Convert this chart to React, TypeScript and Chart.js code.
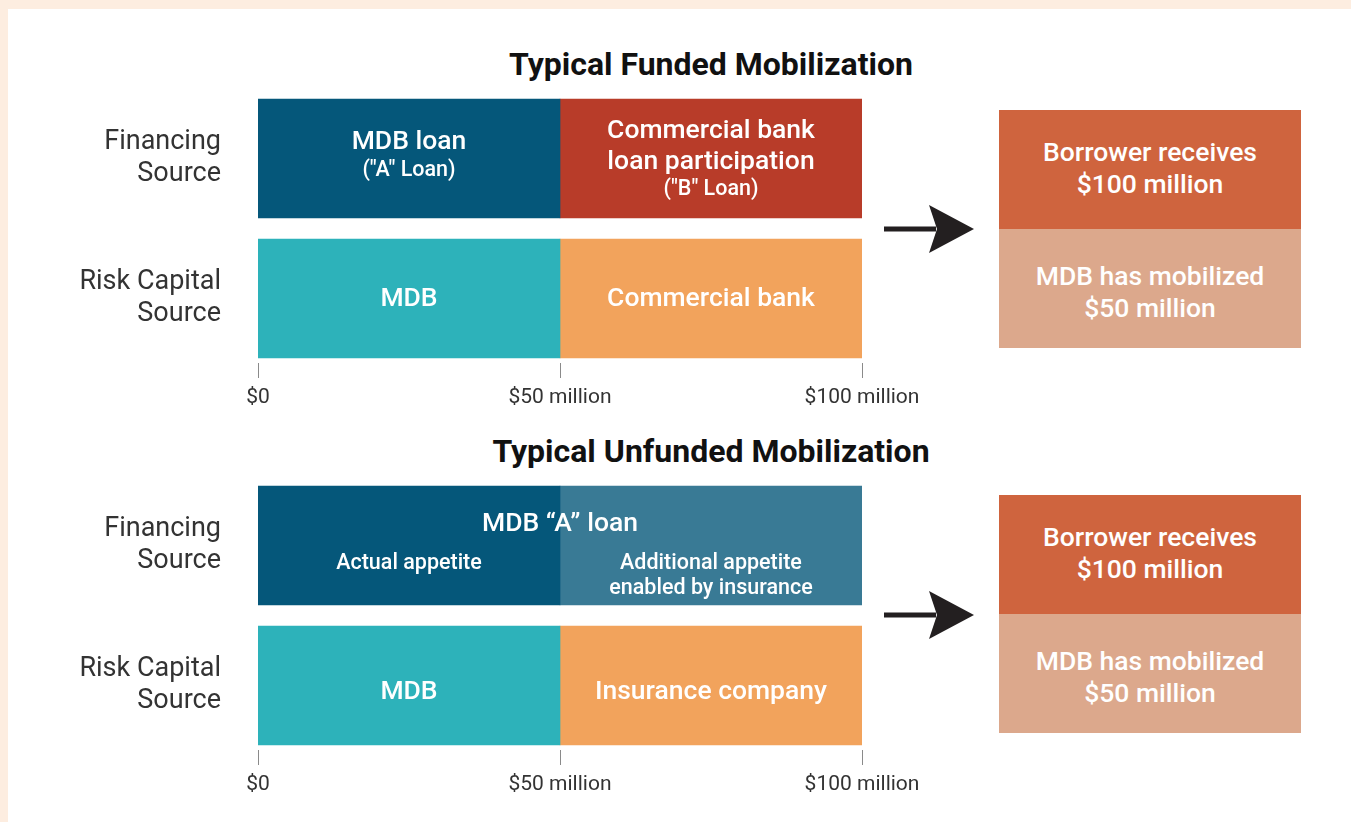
import React, { useEffect, useRef } from "react";
import { Chart, registerables } from "chart.js";

Chart.register(...registerables);

// ---------- data ----------
const rowLabels: string[][] = [["Financing", "Source"], ["Risk Capital", "Source"]];
const xTickValues = [0, 50, 100];
const xTickLabels = ["$0", "$50 million", "$100 million"];

const fundedTitle = "Typical Funded Mobilization";
const unfundedTitle = "Typical Unfunded Mobilization";

// million USD, [Financing Source, Risk Capital Source]
const fundedLeft = [50, 50];
const fundedRight = [50, 50];
const unfundedLeft = [50, 50];
const unfundedRight = [50, 50];

const resultTop = ["Borrower receives", "$100 million"];
const resultBottom = ["MDB has mobilized", "$50 million"];

// ---------- styles ----------
const C = {
  darkBlue: "#05577a",
  red: "#b83c29",
  teal: "#2db2ba",
  orange: "#f2a35c",
  lightBlue: "#397a95",
  boxDark: "#cf643e",
  boxLight: "#dca88c",
  peach: "#fdede0",
  text: "#333333",
};
const FONT = "Roboto, 'Noto Sans', sans-serif";
const BIG = 26.5;
const SMALL = 21.5;

const fundedLeftColors = [C.darkBlue, C.teal];
const fundedRightColors = [C.red, C.orange];
const unfundedLeftColors = [C.darkBlue, C.teal];
const unfundedRightColors = [C.lightBlue, C.orange];

type Line = { text: string; size: number; dy: number };
type Item = { row: number; seg: 0 | 1 | "all"; lines: Line[] };

const fundedItems: Item[] = [
  { row: 0, seg: 0, lines: [{ text: "MDB loan", size: BIG, dy: -16 }, { text: "(\"A\" Loan)", size: SMALL, dy: 12 }] },
  {
    row: 0,
    seg: 1,
    lines: [
      { text: "Commercial bank", size: BIG, dy: -27.5 },
      { text: "loan participation", size: BIG, dy: 3.5 },
      { text: "(\"B\" Loan)", size: SMALL, dy: 31 },
    ],
  },
  { row: 1, seg: 0, lines: [{ text: "MDB", size: BIG, dy: 1 }] },
  { row: 1, seg: 1, lines: [{ text: "Commercial bank", size: BIG, dy: 1 }] },
];

const unfundedItems: Item[] = [
  { row: 0, seg: "all", lines: [{ text: "MDB \u201CA\u201D loan", size: BIG, dy: -21 }] },
  { row: 0, seg: 0, lines: [{ text: "Actual appetite", size: SMALL, dy: 18 }] },
  {
    row: 0,
    seg: 1,
    lines: [
      { text: "Additional appetite", size: SMALL, dy: 18 },
      { text: "enabled by insurance", size: SMALL, dy: 43 },
    ],
  },
  { row: 1, seg: 0, lines: [{ text: "MDB", size: BIG, dy: 6.5 }] },
  { row: 1, seg: 1, lines: [{ text: "Insurance company", size: BIG, dy: 6.5 }] },
];

const barTextPlugin = {
  id: "barText",
  afterDatasetsDraw(chart: any, _args: any, opts: any) {
    const ctx = chart.ctx;
    const items: Item[] = opts.items || [];
    ctx.save();
    ctx.fillStyle = "#ffffff";
    ctx.textAlign = "center";
    ctx.textBaseline = "middle";
    items.forEach((it) => {
      const l = chart.getDatasetMeta(0).data[it.row] as any;
      const r = chart.getDatasetMeta(1).data[it.row] as any;
      let x0: number, x1: number;
      if (it.seg === 0) {
        x0 = l.base; x1 = l.x;
      } else if (it.seg === 1) {
        x0 = r.base; x1 = r.x;
      } else {
        x0 = l.base; x1 = r.x;
      }
      const cx = (x0 + x1) / 2;
      const cy = l.y;
      it.lines.forEach((ln) => {
        ctx.font = `500 ${ln.size}px ${FONT}`;
        ctx.fillText(ln.text, cx, cy + ln.dy);
      });
    });
    ctx.restore();
  },
};

const tickMarkPlugin = {
  id: "tickMarks",
  afterDraw(chart: any) {
    const ctx = chart.ctx;
    const xs = chart.scales.x;
    const bottom = chart.chartArea.bottom;
    ctx.save();
    ctx.strokeStyle = "#8a8a8a";
    ctx.lineWidth = 1;
    xs.ticks.forEach((t: any) => {
      const x = Math.round(xs.getPixelForValue(t.value)) + 0.5;
      ctx.beginPath();
      ctx.moveTo(x, bottom - 5.5);
      ctx.lineTo(x, bottom + 9.5);
      ctx.stroke();
    });
    ctx.restore();
  },
};

function StackChart(props: {
  left: number[];
  right: number[];
  leftColors: string[];
  rightColors: string[];
  items: Item[];
  top: number;
}) {
  const ref = useRef<HTMLCanvasElement | null>(null);
  useEffect(() => {
    if (!ref.current) return;
    const chart = new Chart(ref.current, {
      type: "bar",
      data: {
        labels: rowLabels as any,
        datasets: [
          { label: "left", data: props.left, backgroundColor: props.leftColors, borderWidth: 0, barThickness: 119 } as any,
          { label: "right", data: props.right, backgroundColor: props.rightColors, borderWidth: 0, barThickness: 119 } as any,
        ],
      },
      options: {
        indexAxis: "y",
        responsive: false,
        animation: false,
        events: [],
        layout: { padding: { top: 8.5, right: 78, bottom: 11.5, left: 0 } },
        plugins: {
          legend: { display: false },
          tooltip: { enabled: false },
          title: { display: false },
          barText: { items: props.items },
        } as any,
        scales: {
          x: {
            type: "linear",
            stacked: true,
            min: 0,
            max: 100,
            grid: { display: false, drawTicks: false },
            border: { display: false },
            afterBuildTicks: (s: any) => {
              s.ticks = xTickValues.map((v) => ({ value: v }));
            },
            afterFit: (s: any) => {
              s.height = 40;
            },
            ticks: {
              padding: 17,
              color: C.text,
              font: { family: FONT, size: 21 },
              maxRotation: 0,
              autoSkip: false,
              callback: (v: any) => xTickLabels[xTickValues.indexOf(Number(v))] ?? "",
            },
          },
          y: {
            type: "category",
            stacked: true,
            grid: { display: false, drawTicks: true, tickLength: 37, color: "rgba(0,0,0,0)" },
            border: { display: false },
            afterFit: (s: any) => {
              s.width = 218;
              s.paddingTop = 0;
              s.paddingBottom = 0;
            },
            ticks: {
              padding: 0,
              color: C.text,
              font: { family: FONT, size: 27, lineHeight: 32 / 27 },
            },
          },
        },
      } as any,
      plugins: [barTextPlugin, tickMarkPlugin],
    });
    return () => chart.destroy();
  }, []);
  return (
    <canvas
      ref={ref}
      width={900}
      height={340}
      style={{ position: "absolute", left: 40, top: props.top, width: 900, height: 340 }}
    />
  );
}

function Arrow(props: { y: number }) {
  return (
    <svg
      width={100}
      height={60}
      style={{ position: "absolute", left: 880, top: props.y - 30 }}
      viewBox="0 0 100 60"
    >
      <rect x={4} y={27.5} width={52} height={5} fill="#231f20" />
      <polygon points="49,6 94,30 49,54 57,30" fill="#231f20" />
    </svg>
  );
}

function ResultBoxes(props: { top: number }) {
  const box = (bg: string, lines: string[], top: number, h: number, dy: number) => (
    <div
      style={{
        position: "absolute",
        left: 999,
        top,
        width: 302,
        height: h,
        background: bg,
        color: "#fff",
        display: "flex",
        flexDirection: "column",
        justifyContent: "center",
        alignItems: "center",
        fontFamily: FONT,
        fontWeight: 500,
        fontSize: 26.5,
        lineHeight: "32px",
      }}
    >
      <div style={{ transform: `translateY(${dy}px)`, textAlign: "center" }}>
        {lines.map((l, i) => (
          <div key={i}>{l}</div>
        ))}
      </div>
    </div>
  );
  return (
    <>
      {box(C.boxDark, resultTop, props.top, 119, -2)}
      {box(C.boxLight, resultBottom, props.top + 119, 119, 2.5)}
    </>
  );
}

function Title(props: { text: string; top: number }) {
  return (
    <div
      style={{
        position: "absolute",
        left: 411,
        width: 600,
        top: props.top,
        textAlign: "center",
        fontFamily: FONT,
        fontWeight: 700,
        fontSize: 32,
        lineHeight: "34px",
        color: "#111",
      }}
    >
      {props.text}
    </div>
  );
}

export default function App() {
  return (
    <div
      style={{
        position: "absolute",
        left: 0,
        top: 0,
        width: 1351,
        height: 822,
        background: C.peach,
        overflow: "hidden",
      }}
    >
      <div style={{ position: "absolute", left: 8, top: 9, right: 0, bottom: 0, background: "#fff" }} />
      <Title text={fundedTitle} top={47} />
      <StackChart
        left={fundedLeft}
        right={fundedRight}
        leftColors={fundedLeftColors}
        rightColors={fundedRightColors}
        items={fundedItems}
        top={80}
      />
      <Arrow y={229} />
      <ResultBoxes top={110} />

      <Title text={unfundedTitle} top={434} />
      <StackChart
        left={unfundedLeft}
        right={unfundedRight}
        leftColors={unfundedLeftColors}
        rightColors={unfundedRightColors}
        items={unfundedItems}
        top={467}
      />
      <Arrow y={615} />
      <ResultBoxes top={495} />
    </div>
  );
}
